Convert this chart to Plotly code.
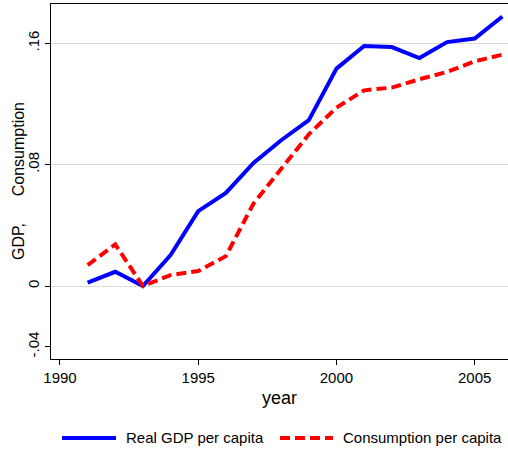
import plotly.graph_objects as go

years = list(range(1991, 2007))
gdp = [0.0022, 0.0094, 0.0, 0.0204, 0.0494, 0.0614, 0.0812, 0.0961, 0.1093, 0.1433,
       0.1582, 0.1575, 0.1503, 0.1608, 0.1631, 0.1777]
cons = [0.0138, 0.0274, 0.0, 0.0072, 0.0099, 0.0197, 0.0544, 0.0768, 0.1000, 0.1176,
        0.1290, 0.1308, 0.1363, 0.1411, 0.1481, 0.1525]
series_names = ["Real GDP per capita", "Consumption per capita"]

ytick_vals = [0, 0.08, 0.16]
ytick_text = ["0", ".08", ".16"]
ytick_extra_vals = [-0.04]
ytick_extra_text = ["-.04"]
xtick_vals = [1990, 1995, 2000, 2005]
ytitle = "GDP," + "\u00a0" * 6 + "Consumption"

FONT = "Liberation Sans, Arial, sans-serif"
yrange = [-0.0481, 0.1859]
BLUE = "#0000ff"
RED = "#ff0000"
DASH = "10px,5px"

fig = go.Figure()
fig.add_trace(go.Scatter(x=years, y=gdp, mode="lines", name=series_names[0],
                         line=dict(color=BLUE, width=4)))
fig.add_trace(go.Scatter(x=years, y=cons, mode="lines", name=series_names[1],
                         line=dict(color=RED, width=4, dash=DASH)))

fig.update_layout(
    width=508, height=452,
    margin=dict(l=51, r=0, t=4, b=93, autoexpand=False),
    paper_bgcolor="white", plot_bgcolor="white",
    font=dict(family=FONT, size=15, color="black"),
    showlegend=False,
    xaxis=dict(range=[1989.675, 2006.204], tickvals=xtick_vals, ticks="outside",
               ticklen=5, tickcolor="black", showline=True, linecolor="black",
               linewidth=1, mirror=True, showgrid=False, zeroline=False,
               title=dict(text="year", standoff=6), tickfont=dict(size=15)),
    yaxis=dict(range=yrange, tickvals=ytick_vals, ticktext=ytick_text,
               ticks="outside", ticklen=5, tickcolor="black", tickangle=-90,
               showline=True, linecolor="black", linewidth=1, showgrid=True,
               gridcolor="#dcdcdc", gridwidth=1, zeroline=False,
               tickfont=dict(size=15)),
    yaxis2=dict(range=yrange, overlaying="y", side="left", tickvals=ytick_extra_vals,
                ticktext=ytick_extra_text, ticks="outside", ticklen=5,
                tickcolor="black", tickangle=-90, showgrid=False, zeroline=False,
                showline=False, tickfont=dict(size=15)),
)
fig.add_annotation(text=ytitle, xref="paper", yref="paper", x=-0.0711, y=0.5,
                   xanchor="center", yanchor="middle", textangle=-90, showarrow=False,
                   font=dict(size=16, family=FONT, color="black"))

# legend (drawn below the plot in paper coordinates)
LEG_Y = -0.2225
legend_items = [
    (0.0241, 0.1422, 0.1597, BLUE, "solid", series_names[0]),
    (0.5011, 0.6171, 0.6346, RED, DASH, series_names[1]),
]
for x0, x1, xt, col, dash, label in legend_items:
    fig.add_shape(type="line", xref="paper", yref="paper", x0=x0, x1=x1,
                  y0=LEG_Y, y1=LEG_Y, line=dict(color=col, width=4, dash=dash))
    fig.add_annotation(text=label, xref="paper", yref="paper", x=xt, y=LEG_Y,
                       xanchor="left", yanchor="middle", showarrow=False,
                       font=dict(size=15, family=FONT, color="black"))

fig.add_trace(go.Scatter(x=[None], y=[None], yaxis="y2", showlegend=False,
                         hoverinfo="skip"))
fig.write_html("out.html")
